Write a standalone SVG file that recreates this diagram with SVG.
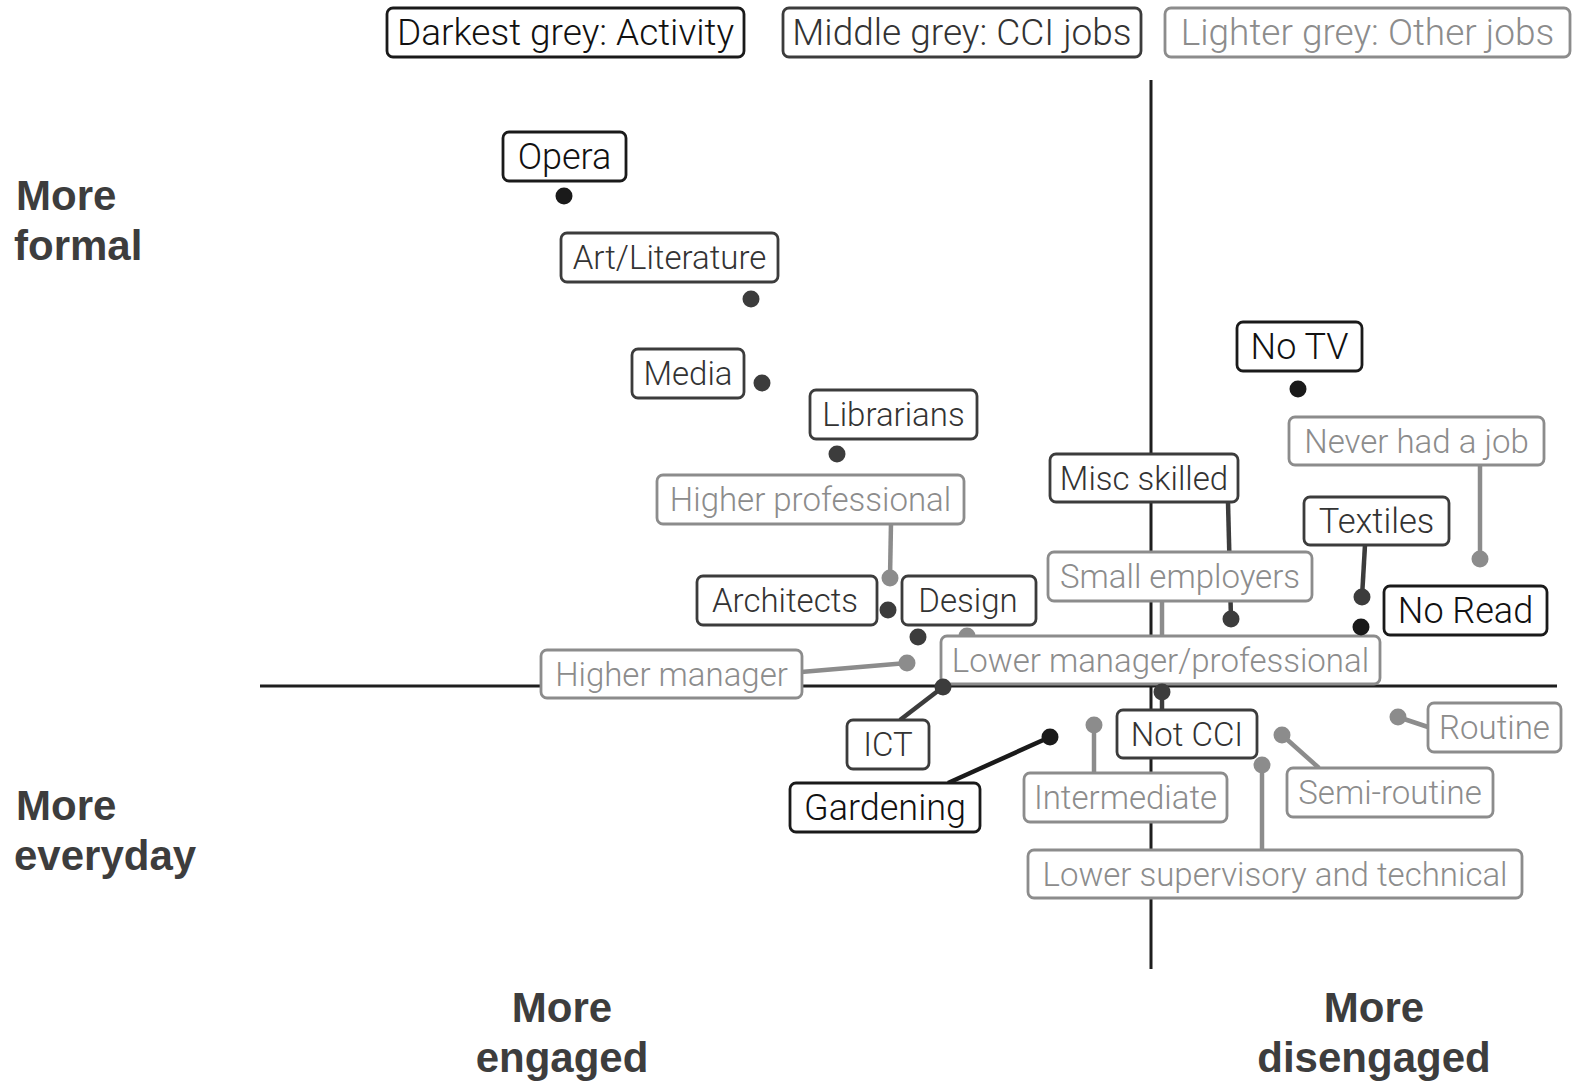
<svg xmlns="http://www.w3.org/2000/svg" width="1575" height="1091" viewBox="0 0 1575 1091">
<style>
  .lbl rect { fill: #ffffff; stroke-width: 2.8; }
  .lbl text { font-family: Roboto, "Liberation Sans", Arial, sans-serif; font-weight: 300; font-size: 33px; text-anchor: middle; }
  .act text { font-size: 36px; }
  .leg text { font-size: 37px; }
  .act rect { stroke: #1a1a1a; } .act text { fill: #111111; }
  .cci rect { stroke: #3c3c3c; } .cci text { fill: #333333; }
  .oth rect { stroke: #8c8c8c; } .oth text { fill: #8c8c8c; }
  .axis { stroke: #1e1e1e; stroke-width: 3; fill: none; }
  .seg { stroke-width: 4.5; fill: none; }
  .sa { stroke: #1a1a1a; } .sc { stroke: #3c3c3c; } .so { stroke: #8c8c8c; }
  .da { fill: #1a1a1a; } .dc { fill: #3c3c3c; } .do { fill: #8c8c8c; }
  .ax text { font-family: "Liberation Sans", Arial, sans-serif; font-weight: bold; font-size: 42px; fill: #3d3d3d; }
</style>

<!-- axes -->
<g id="axes">
  <line class="axis" x1="260" y1="686" x2="1557" y2="686"/>
  <line class="axis" x1="1151" y1="80" x2="1151" y2="969"/>
</g>

<!-- connectors (segments) -->
<g id="connectors">
  <line class="seg so" x1="891" y1="523" x2="890" y2="578"/>
  <line class="seg so" x1="801" y1="672" x2="907" y2="663"/>
  <line class="seg so" x1="1162" y1="600" x2="1162" y2="660"/>
  <line class="seg so" x1="1480" y1="465" x2="1480" y2="559"/>
  <line class="seg so" x1="1094" y1="773" x2="1094" y2="725"/>
  <line class="seg so" x1="1319" y1="768" x2="1282" y2="735"/>
  <line class="seg so" x1="1428" y1="727" x2="1398" y2="717"/>
  <line class="seg so" x1="1262" y1="850" x2="1262" y2="765"/>
  <line class="seg sc" x1="900" y1="720" x2="943" y2="687"/>
  <line class="seg sc" x1="1228" y1="502" x2="1231" y2="619"/>
  <line class="seg sc" x1="1365" y1="545" x2="1362" y2="597"/>
  <line class="seg sc" x1="1162" y1="710" x2="1162" y2="692"/>
  <line class="seg sa" x1="948" y1="783" x2="1050" y2="737"/>
  <!-- hidden dot under the Lower manager/professional label -->
  <circle class="do" cx="967" cy="636" r="8.5"/>
</g>

<!-- Other jobs labels -->
<g id="higher-professional" class="lbl oth"><rect x="657" y="475" width="307" height="49" rx="6"/><text x="810.5" y="511">Higher professional</text></g>
<g id="never-had-a-job" class="lbl oth"><rect x="1289" y="417" width="255" height="48" rx="6"/><text x="1416.5" y="453">Never had a job</text></g>
<g id="small-employers" class="lbl oth"><rect x="1048" y="552" width="264" height="49" rx="6"/><text x="1180" y="588">Small employers</text></g>
<g id="higher-manager" class="lbl oth"><rect x="541" y="650" width="261" height="48" rx="6"/><text x="671.5" y="686">Higher manager</text></g>
<g id="lower-manager" class="lbl oth"><rect x="941" y="636" width="439" height="48" rx="6"/><text x="1160.5" y="672">Lower manager/professional</text></g>
<g id="routine" class="lbl oth"><rect x="1428" y="703" width="133" height="49" rx="6"/><text x="1494.5" y="739">Routine</text></g>
<g id="intermediate" class="lbl oth"><rect x="1024" y="773" width="203" height="49" rx="6"/><text x="1125.5" y="809">Intermediate</text></g>
<g id="semi-routine" class="lbl oth"><rect x="1287" y="768" width="206" height="49" rx="6"/><text x="1390" y="804">Semi-routine</text></g>
<g id="lower-supervisory" class="lbl oth"><rect x="1028" y="850" width="494" height="48" rx="6"/><text x="1275" y="886">Lower supervisory and technical</text></g>

<!-- CCI jobs labels -->
<g id="art-literature" class="lbl cci"><rect x="561" y="233" width="217" height="49" rx="6"/><text x="669.5" y="269">Art/Literature</text></g>
<g id="media" class="lbl cci"><rect x="632" y="349" width="112" height="49" rx="6"/><text x="688" y="385">Media</text></g>
<g id="librarians" class="lbl cci"><rect x="810" y="390" width="167" height="49" rx="6"/><text x="893.5" y="426">Librarians</text></g>
<g id="architects" class="lbl cci"><rect x="697" y="576" width="180" height="49" rx="6"/><text x="785" y="612">Architects</text></g>
<g id="design" class="lbl cci"><rect x="902" y="576" width="134" height="49" rx="6"/><text x="968" y="612">Design</text></g>
<g id="ict" class="lbl cci"><rect x="847" y="720" width="82" height="49" rx="6"/><text x="888" y="756">ICT</text></g>
<g id="misc-skilled" class="lbl cci"><rect x="1050" y="454" width="188" height="48" rx="6"/><text x="1144" y="490">Misc skilled</text></g>
<g id="textiles" class="lbl cci"><rect x="1304" y="497" width="145" height="48" rx="6"/><text x="1376.5" y="533" style="font-size:34.5px">Textiles</text></g>
<g id="not-cci" class="lbl cci"><rect x="1117" y="710" width="140" height="48" rx="6"/><text x="1187" y="746">Not CCI</text></g>

<!-- Activity labels -->
<g id="opera" class="lbl act"><rect x="503" y="132" width="123" height="49" rx="6"/><text x="564.5" y="169">Opera</text></g>
<g id="no-tv" class="lbl act"><rect x="1237" y="322" width="125" height="49" rx="6"/><text x="1299.5" y="359">No TV</text></g>
<g id="no-read" class="lbl act"><rect x="1384" y="586" width="163" height="49" rx="6"/><text x="1465.5" y="623">No Read</text></g>
<g id="gardening" class="lbl act"><rect x="790" y="783" width="190" height="49" rx="6"/><text x="885" y="820">Gardening</text></g>

<!-- points -->
<g id="points">
  <circle class="do" cx="890" cy="578" r="8.5"/>
  <circle class="do" cx="907" cy="663" r="8.5"/>
  <circle class="do" cx="1480" cy="559" r="8.5"/>
  <circle class="do" cx="1094" cy="725" r="8.5"/>
  <circle class="do" cx="1282" cy="735" r="8.5"/>
  <circle class="do" cx="1398" cy="717" r="8.5"/>
  <circle class="do" cx="1262" cy="765" r="8.5"/>
  <circle class="dc" cx="751" cy="299" r="8.5"/>
  <circle class="dc" cx="762" cy="383" r="8.5"/>
  <circle class="dc" cx="837" cy="454" r="8.5"/>
  <circle class="dc" cx="888" cy="610" r="8.5"/>
  <circle class="dc" cx="918" cy="637" r="8.5"/>
  <circle class="dc" cx="943" cy="687" r="8.5"/>
  <circle class="dc" cx="1231" cy="619" r="8.5"/>
  <circle class="dc" cx="1362" cy="597" r="8.5"/>
  <circle class="dc" cx="1162" cy="692" r="8.5"/>
  <circle class="da" cx="564" cy="196" r="8.5"/>
  <circle class="da" cx="1298" cy="389" r="8.5"/>
  <circle class="da" cx="1361" cy="627" r="8.5"/>
  <circle class="da" cx="1050" cy="737" r="8.5"/>
</g>

<!-- legend -->
<g id="legend-activity" class="lbl act leg"><rect x="387" y="8" width="357" height="49" rx="6"/><text x="565.5" y="45">Darkest grey: Activity</text></g>
<g id="legend-cci" class="lbl cci leg"><rect x="783" y="8" width="358" height="49" rx="6"/><text x="962" y="45">Middle grey: CCI jobs</text></g>
<g id="legend-other" class="lbl oth leg"><rect x="1165" y="8" width="405" height="49" rx="6"/><text x="1367.5" y="45">Lighter grey: Other jobs</text></g>

<!-- axis labels -->
<g id="axis-labels" class="ax">
  <text x="16" y="210">More</text>
  <text x="14" y="260">formal</text>
  <text x="16" y="820">More</text>
  <text x="14" y="870">everyday</text>
  <text x="562" y="1022" text-anchor="middle">More</text>
  <text x="562" y="1072" text-anchor="middle">engaged</text>
  <text x="1374" y="1022" text-anchor="middle">More</text>
  <text x="1374" y="1072" text-anchor="middle">disengaged</text>
</g>
</svg>
